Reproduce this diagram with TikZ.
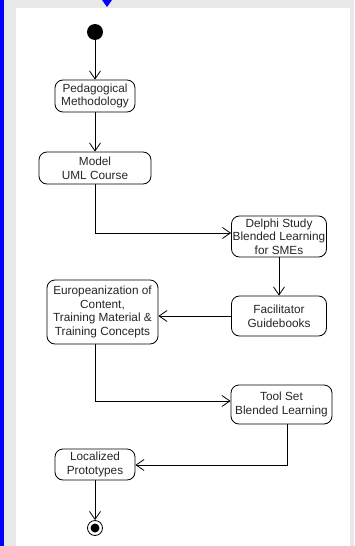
\documentclass[tikz,border=0pt]{standalone}
\usepackage{fontspec}
\setmainfont{Liberation Sans}
\usetikzlibrary{arrows.meta}
\definecolor{bggray}{HTML}{E8E8E8}
\definecolor{txt}{HTML}{262626}
\tikzset{
  act/.style={draw=black, line width=0.8pt, rounded corners=8pt, inner sep=0pt,
    align=center, font=\fontsize{11.8}{13.6}\selectfont, text=txt},
  flow/.style={draw=black, line width=0.8pt, -{Straight Barb[length=8pt,width=11pt,line width=0.8pt]}},
}
\begin{document}
\begin{tikzpicture}[x=1pt,y=-1pt]
\useasboundingbox (0,0) rectangle (354,546);
\fill[bggray] (0,0) rectangle (354,546);
\fill[blue] (0,0) rectangle (4,546);
\fill[white] (16,8) rectangle (350,546);
\fill[blue] (102,0) -- (112,0) -- (107,7) -- cycle;

\node[circle, fill=black, minimum size=16pt, inner sep=0pt] (start) at (95,32) {};
\node[act, minimum width=80pt, minimum height=32pt] (ped) at (95,96) {Pedagogical\\Methodology};
\node[act, minimum width=112pt, minimum height=32pt] (model) at (95,168) {Model\\UML Course};
\node[act, minimum width=95pt, minimum height=41pt] (delphi) at (279,236.5) {Delphi Study\\Blended Learning\\for SMEs};
\node[act, minimum width=95pt, minimum height=40pt] (facil) at (279,316) {Facilitator\\Guidebooks};
\node[act, minimum width=111pt, minimum height=64pt] (europ) at (102.5,312) {Europeanization of\\Content,\\Training Material \&\\Training Concepts};
\node[act, minimum width=101pt, minimum height=39pt] (tool) at (281.5,404.5) {Tool Set\\Blended Learning};
\node[act, minimum width=80pt, minimum height=31pt] (local) at (95,464.5) {Localized\\Prototypes};
\node[circle, draw=black, line width=0.8pt, fill=white, minimum size=15pt, inner sep=0pt] (end) at (95,528) {};
\node[circle, fill=black, minimum size=9pt, inner sep=0pt] at (end) {};

\coordinate (c1) at (95,233);
\coordinate (c2) at (95,401);
\coordinate (c3) at (287,465);

\draw[flow] (start) -- (ped);
\draw[flow] (ped) -- (model);
\draw[flow] (model.south) |- (delphi.west |- c1);
\draw[flow] (delphi) -- (facil);
\draw[flow] (facil.west) -- (europ.east |- facil.west);
\draw[flow] (europ.south -| c2) |- (tool.west |- c2);
\draw[flow] (tool.south -| c3) |- (local.east |- c3);
\draw[flow] (local) -- (end);
\end{tikzpicture}
\end{document}
